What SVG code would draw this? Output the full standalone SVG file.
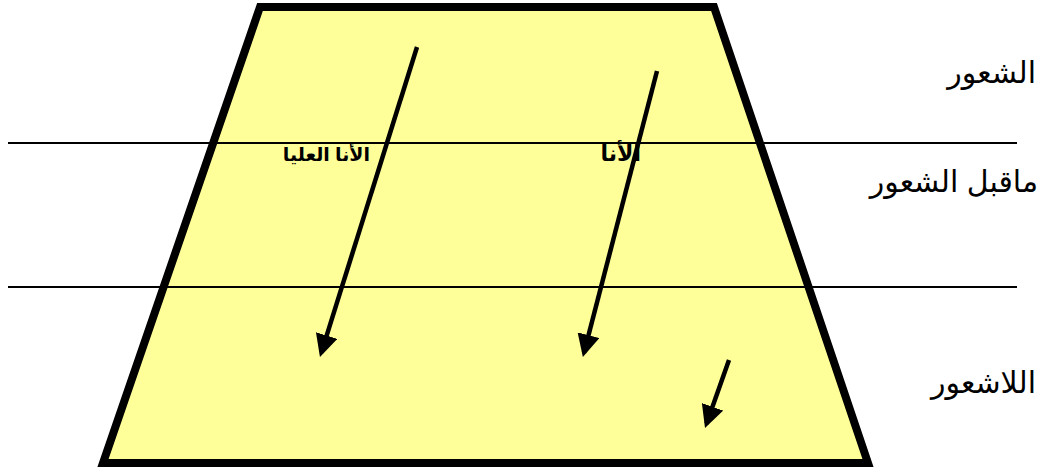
<svg xmlns="http://www.w3.org/2000/svg" width="1041" height="473" viewBox="0 0 1041 473">
<style>
.lbl{font-family:"Liberation Sans","DejaVu Sans",sans-serif;font-size:30px;fill:#000;direction:rtl;}
.in{font-family:"Liberation Sans","DejaVu Sans",sans-serif;font-weight:bold;fill:#000;direction:rtl;}
.arr{stroke:#000;stroke-width:4.5;fill:none;marker-end:url(#ah);}
</style>
<defs>
<marker id="ah" markerWidth="5" markerHeight="5" refX="4" refY="2.5" orient="auto" markerUnits="strokeWidth">
<path d="M0,0 L5,2.5 L0,5 z" fill="#000"/>
</marker>
</defs>
<rect width="1041" height="473" fill="#fff"/>
<g id="trapezoid">
<polygon points="260,7 714,7 868,463 103,463" fill="#FFFF99" stroke="#000" stroke-width="8" stroke-linejoin="miter"/>
</g>
<g id="levels">
<line x1="8" y1="143" x2="1017" y2="143" stroke="#000" stroke-width="2"/>
<line x1="8" y1="287" x2="1017" y2="287" stroke="#000" stroke-width="2"/>
</g>
<g id="connectors">
<line class="arr" x1="417" y1="47" x2="321.3" y2="352.7"/>
<line class="arr" x1="657" y1="71" x2="584" y2="352.6"/>
<line class="arr" x1="729" y1="360" x2="706.5" y2="423.8"/>
</g>
<g id="superego"><text class="in" x="370" y="161" font-size="19" text-anchor="start">الأنا العليا</text></g>
<g id="ego"><text class="in" x="641" y="161" font-size="22" text-anchor="start">الأنا</text></g>
<g id="conscious"><text class="lbl" x="1036" y="83" text-anchor="start">الشعور</text></g>
<g id="preconscious"><text class="lbl" x="1038" y="192" text-anchor="start">ماقبل الشعور</text></g>
<g id="unconscious"><text class="lbl" x="1036" y="393" text-anchor="start">اللاشعور</text></g>
</svg>
